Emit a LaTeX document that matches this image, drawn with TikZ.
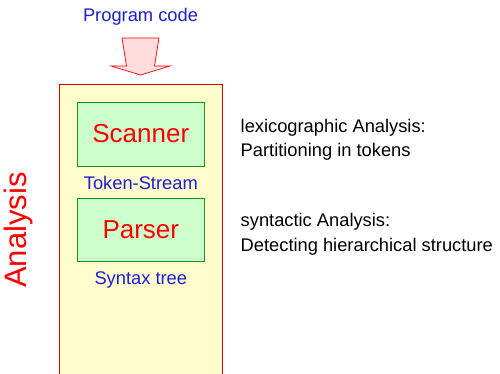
\documentclass[tikz,border=0pt]{standalone}
\usepackage{fontspec}
\setmainfont{Liberation Sans}
\usetikzlibrary{positioning}
\definecolor{paleyellow}{RGB}{255,253,204}
\definecolor{palegreen}{RGB}{204,255,204}
\definecolor{darkgreen}{RGB}{20,150,20}
\definecolor{labelblue}{RGB}{30,30,210}
\definecolor{palepink}{RGB}{255,221,221}

\begin{document}
\begin{tikzpicture}[x=1pt,y=-1pt,
    phasebox/.style={draw=darkgreen,fill=palegreen,minimum width=127pt,minimum height=63.5pt,
        inner sep=0pt,text=red,font=\fontsize{26}{30}\selectfont},
    flowlabel/.style={text=labelblue,inner sep=0pt,font=\fontsize{18.3}{22}\selectfont},
    remark/.style={align=left,inner sep=0pt,font=\fontsize{18.3}{24.7}\selectfont}]
    \useasboundingbox (0,0) rectangle (500,373);
    \filldraw[draw=red!85!black,fill=paleyellow,line width=0.8pt] (59,84) rectangle (222.5,390);

    \node[flowlabel,anchor=base] (Prog) at (140.5,21.7) {Program code};
    \filldraw[draw=red,fill=palepink,line width=0.7pt]
        (122,38) -- (159,38) -- (154.5,66) -- (170,66) -- (140.5,75)
        -- (111,66) -- (126.5,66) -- cycle;

    \node[phasebox] (Scan) at (140.8,134) {Scanner};
    \node[flowlabel,below=10pt of Scan] (Tok) {Token-Stream};
    \node[phasebox,below=8pt of Tok] (Pars) {Parser};
    \node[flowlabel,below=9.5pt of Pars] (Tree) {Syntax tree};

    \node[remark,below right=16.5pt and 36pt of Scan.north east] (Lex) {lexicographic Analysis:\\Partitioning in tokens};
    \node[remark,below right=15.5pt and 36pt of Pars.north east] (Syn) {syntactic Analysis:\\Detecting hierarchical structure};

    \node[rotate=90,text=red,inner sep=0pt,font=\fontsize{31}{36}\selectfont] (Ana) at (18.7,230) {Analysis};
\end{tikzpicture}
\end{document}
